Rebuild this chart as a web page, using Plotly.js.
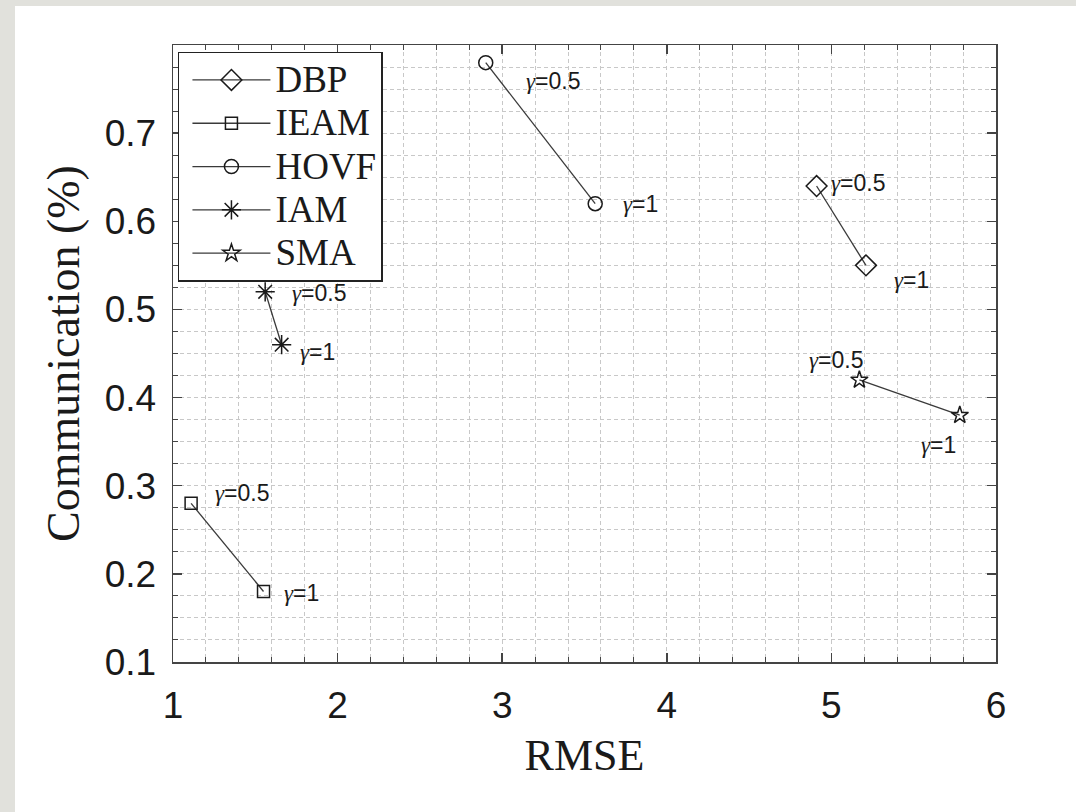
<!DOCTYPE html>
<html>
<head>
<meta charset="utf-8">
<script src="https://cdn.plot.ly/plotly-3.0.1.min.js"></script>
<style>html,body{margin:0;padding:0;background:#fff;}#chart{width:1076px;height:812px;}</style>
</head>
<body>
<div id="chart"></div>
<script>
// ---- data ----
const seriesNames = ['DBP', 'IEAM', 'HOVF', 'IAM', 'SMA'];
const gammaLabels = ['0.5', '1'];
const dbpRMSE = [4.91, 5.21];
const dbpComm = [0.64, 0.55];
const ieamRMSE = [1.11, 1.55];
const ieamComm = [0.28, 0.18];
const hovfRMSE = [2.90, 3.565];
const hovfComm = [0.78, 0.62];
const iamRMSE = [1.56, 1.66];
const iamComm = [0.52, 0.46];
const smaRMSE = [5.17, 5.78];
const smaComm = [0.42, 0.38];
const xTicks = [1, 2, 3, 4, 5, 6];
const yTicks = [0.1, 0.2, 0.3, 0.4, 0.5, 0.6, 0.7];

// ---- styles ----
const seriesX = [dbpRMSE, ieamRMSE, hovfRMSE, iamRMSE, smaRMSE];
const seriesY = [dbpComm, ieamComm, hovfComm, iamComm, smaComm];
const symbols = ['diamond-open', 'square-open', 'circle-open', 'asterisk-open', 'star-open'];
const sizes = [16, 12, 14, 16, 13];
// label placement per series, per point: [xshift, yshift, xanchor]
const labelPlace = [
  [[12, 3, 'left'], [26, -15, 'left']],
  [[22, 10, 'left'], [18, -2, 'left']],
  [[38, -18, 'left'], [26, 0, 'left']],
  [[25, -1, 'left'], [16, -7, 'left']],
  [[6, 20, 'right'], [-2, -30, 'right']]
];

const traces = seriesNames.map((name, i) => ({
  type: 'scatter',
  mode: 'lines+markers',
  name: '<span style="font-size:37px">' + name + '</span>',
  x: seriesX[i],
  y: seriesY[i],
  line: {color: '#3a3a3a', width: 1.3},
  marker: {symbol: symbols[i], size: sizes[i], color: '#1a1a1a', line: {color: '#1a1a1a', width: 1.5}},
  showlegend: true
}));

const annotations = [];
seriesNames.forEach((name, i) => {
  seriesX[i].forEach((xv, j) => {
    const p = labelPlace[i][j];
    annotations.push({
      x: xv, y: seriesY[i][j], xref: 'x', yref: 'y',
      text: '<span style="font-family:\'Liberation Serif\', serif"><i>γ</i></span>=' + gammaLabels[j],
      showarrow: false, xanchor: p[2], yanchor: 'middle',
      xshift: p[0], yshift: p[1],
      font: {family: 'Liberation Sans, Arial, sans-serif', size: 23, color: '#1a1a1a'}
    });
  });
});

const axisCommon = {
  ticks: 'inside', ticklen: 9, tickwidth: 1.5, tickcolor: '#444',
  showline: true, linecolor: '#444', linewidth: 1.5, mirror: 'allticks',
  showgrid: true, gridcolor: '#c8c8c8', gridwidth: 1, griddash: '4px,3px',
  zeroline: false,
  tickfont: {family: 'Liberation Sans, Arial, sans-serif', size: 37, color: '#1a1a1a'}
};

const layout = {
  width: 1076, height: 812,
  margin: {l: 173, r: 80, t: 45, b: 150},
  paper_bgcolor: '#e1e1dc',
  plot_bgcolor: '#ffffff',
  showlegend: true,
  xaxis: Object.assign({}, axisCommon, {
    range: [1, 6], tickmode: 'array', tickvals: xTicks,
    ticklabelstandoff: 10,
    minor: {tickmode: 'linear', tick0: 1, dtick: 0.2, ticks: 'inside', ticklen: 5, tickcolor: '#444', tickwidth: 1,
            showgrid: true, gridcolor: '#c8c8c8', gridwidth: 1, griddash: '4px,3px'},
    title: {text: 'RMSE', font: {family: 'Liberation Serif, Times New Roman, serif', size: 44, color: '#1a1a1a'}, standoff: 14}
  }),
  yaxis: Object.assign({}, axisCommon, {
    range: [0.1, 0.8], tickmode: 'array', tickvals: yTicks,
    ticktext: yTicks.map(v => v.toFixed(1)),
    ticklabelstandoff: 8,
    minor: {tickmode: 'linear', tick0: 0.1, dtick: 0.025, ticks: 'inside', ticklen: 5, tickcolor: '#444', tickwidth: 1,
            showgrid: true, gridcolor: '#c8c8c8', gridwidth: 1, griddash: '4px,3px'},
    title: {text: 'Communication (%)', font: {family: 'Liberation Serif, Times New Roman, serif', size: 46, color: '#1a1a1a'}, standoff: 10}
  }),
  legend: {
    x: 0.006, y: 0.989, xanchor: 'left', yanchor: 'top',
    bgcolor: '#ffffff', bordercolor: '#222', borderwidth: 1.5,
    font: {family: 'Liberation Serif, Times New Roman, serif', size: 31, color: '#1a1a1a'},
    itemwidth: 78, indentation: 8, tracegroupgap: 0
  },
  annotations: annotations,
  shapes: [{
    type: 'rect', xref: 'paper', yref: 'paper', layer: 'below',
    x0: -0.192, x1: 1.2, y0: -0.3, y1: 1.0632,
    fillcolor: '#ffffff', line: {width: 0}
  }]
};

Plotly.newPlot('chart', traces, layout, {displayModeBar: false, staticPlot: true});
</script>
</body>
</html>
